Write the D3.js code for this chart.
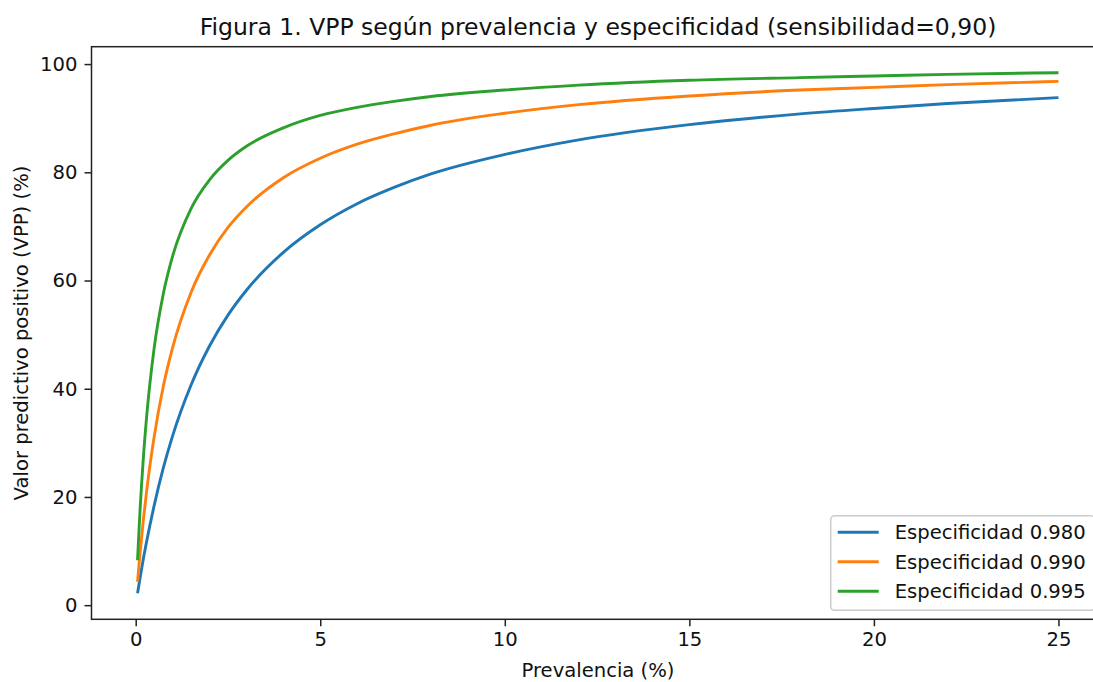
<!DOCTYPE html>
<html>
<head>
<meta charset="utf-8">
<script src="https://cdn.jsdelivr.net/npm/d3@7"></script>
<style>
  html, body { margin: 0; padding: 0; background: #fff; overflow: hidden; }
  svg { display: block; font-family: "DejaVu Sans", sans-serif; }
</style>
</head>
<body>
<div id="chart"></div>
<script>
// prevalence (%) sampled along the curves
const prevalence = [0.05, 0.1, 0.2, 0.3, 0.5, 0.75, 1, 1.5, 2, 2.5, 3, 4, 5, 6, 7, 8, 10, 12, 15, 18, 20, 22, 25];

// PPV (%) for each specificity
const vpp980 = [2.2, 4.3, 8.3, 11.9, 18.4, 25.4, 31.3, 40.7, 47.9, 53.6, 58.2, 65.2, 70.3, 74.2, 77.2, 79.7, 83.3, 86.0, 88.8, 90.8, 91.8, 92.7, 93.8];
const vpp990 = [4.3, 8.3, 15.3, 21.3, 31.1, 40.5, 47.6, 57.8, 64.7, 69.8, 73.6, 79.0, 82.6, 85.2, 87.1, 88.7, 90.9, 92.5, 94.1, 95.2, 95.7, 96.2, 96.8];
const vpp995 = [8.3, 15.3, 26.5, 35.1, 47.5, 57.6, 64.5, 73.3, 78.6, 82.2, 84.8, 88.2, 90.5, 92.0, 93.1, 94.0, 95.2, 96.1, 97.0, 97.5, 97.8, 98.1, 98.4];

const seriesNames = ["Especificidad 0.980", "Especificidad 0.990", "Especificidad 0.995"];
const seriesValues = [vpp980, vpp990, vpp995];
const colors = ["#1f77b4", "#ff7f0e", "#2ca02c"];

const xTicks = [0, 5, 10, 15, 20, 25];
const yTicks = [0, 20, 40, 60, 80, 100];

const width = 1093, height = 682;
const margin = { top: 46.7, right: -11.5, bottom: 62.7, left: 91.5 };
const fs = 19.6;

const svg = d3.select("#chart").append("svg")
    .attr("width", width)
    .attr("height", height);

const innerW = width - margin.left - margin.right;
const innerH = height - margin.top - margin.bottom;

// matplotlib style 5% padding around data
const xMin = d3.min(prevalence), xMax = d3.max(prevalence);
const xPad = (xMax - xMin) * 0.05;
const allY = seriesValues.flat();
const yMin = d3.min(allY), yMax = d3.max(allY);
const yPad = (yMax - yMin) * 0.05;

const x = d3.scaleLinear().domain([xMin - xPad, xMax + xPad]).range([0, innerW]);
const y = d3.scaleLinear().domain([yMin - yPad, yMax + yPad]).range([innerH, 0]);

const g = svg.append("g").attr("transform", `translate(${margin.left},${margin.top})`);

// lines
const line = d3.line()
    .x(d => x(d[0]))
    .y(d => y(d[1]))
    .curve(d3.curveMonotoneX);

seriesValues.forEach((vals, i) => {
    g.append("path")
        .datum(prevalence.map((p, j) => [p, vals[j]]))
        .attr("fill", "none")
        .attr("stroke", colors[i])
        .attr("stroke-width", 2.9)
        .attr("stroke-linecap", "butt")
        .attr("d", line);
});

// axes
const xAxis = g.append("g")
    .attr("transform", `translate(0,${innerH})`)
    .call(d3.axisBottom(x).tickValues(xTicks).tickSizeOuter(0).tickSize(7).tickPadding(6));
const yAxis = g.append("g")
    .call(d3.axisLeft(y).tickValues(yTicks).tickSizeOuter(0).tickSize(7).tickPadding(7));

[xAxis, yAxis].forEach(a => {
    a.select(".domain").remove();
    a.selectAll("line").attr("stroke", "#222").attr("stroke-width", 1.5);
    a.selectAll("text").attr("fill", "#111").style("font-size", fs + "px")
        .style("font-family", "DejaVu Sans, sans-serif");
});

// spines
g.append("rect")
    .attr("x", 0).attr("y", 0)
    .attr("width", innerW).attr("height", innerH)
    .attr("fill", "none")
    .attr("stroke", "#222")
    .attr("stroke-width", 1.5);

// title and labels
svg.append("text")
    .attr("x", margin.left + innerW / 2)
    .attr("y", 35)
    .attr("text-anchor", "middle")
    .style("font-size", "23.5px")
    .attr("fill", "#111")
    .text("Figura 1. VPP según prevalencia y especificidad (sensibilidad=0,90)");

svg.append("text")
    .attr("x", margin.left + innerW / 2)
    .attr("y", 677)
    .attr("text-anchor", "middle")
    .style("font-size", fs + "px")
    .attr("fill", "#111")
    .text("Prevalencia (%)");

svg.append("text")
    .attr("transform", `translate(28,${margin.top + innerH / 2}) rotate(-90)`)
    .attr("text-anchor", "middle")
    .style("font-size", fs + "px")
    .attr("fill", "#111")
    .text("Valor predictivo positivo (VPP) (%)");

// legend, lower right
const legW = 264, legH = 94.5;
const legX = innerW - 9.8 - legW, legY = innerH - 9 - legH;
const legend = g.append("g").attr("transform", `translate(${legX},${legY})`);
legend.append("rect")
    .attr("width", legW).attr("height", legH)
    .attr("rx", 4)
    .attr("fill", "rgba(255,255,255,0.8)")
    .attr("stroke", "#cccccc")
    .attr("stroke-width", 1.5);

seriesNames.forEach((name, i) => {
    const ly = 16.5 + i * 29.5;
    legend.append("line")
        .attr("x1", 7).attr("x2", 48)
        .attr("y1", ly).attr("y2", ly)
        .attr("stroke", colors[i])
        .attr("stroke-width", 2.9);
    legend.append("text")
        .attr("x", 64).attr("y", ly)
        .attr("dy", "0.35em")
        .style("font-size", fs + "px")
        .attr("fill", "#111")
        .text(name);
});
</script>
</body>
</html>
